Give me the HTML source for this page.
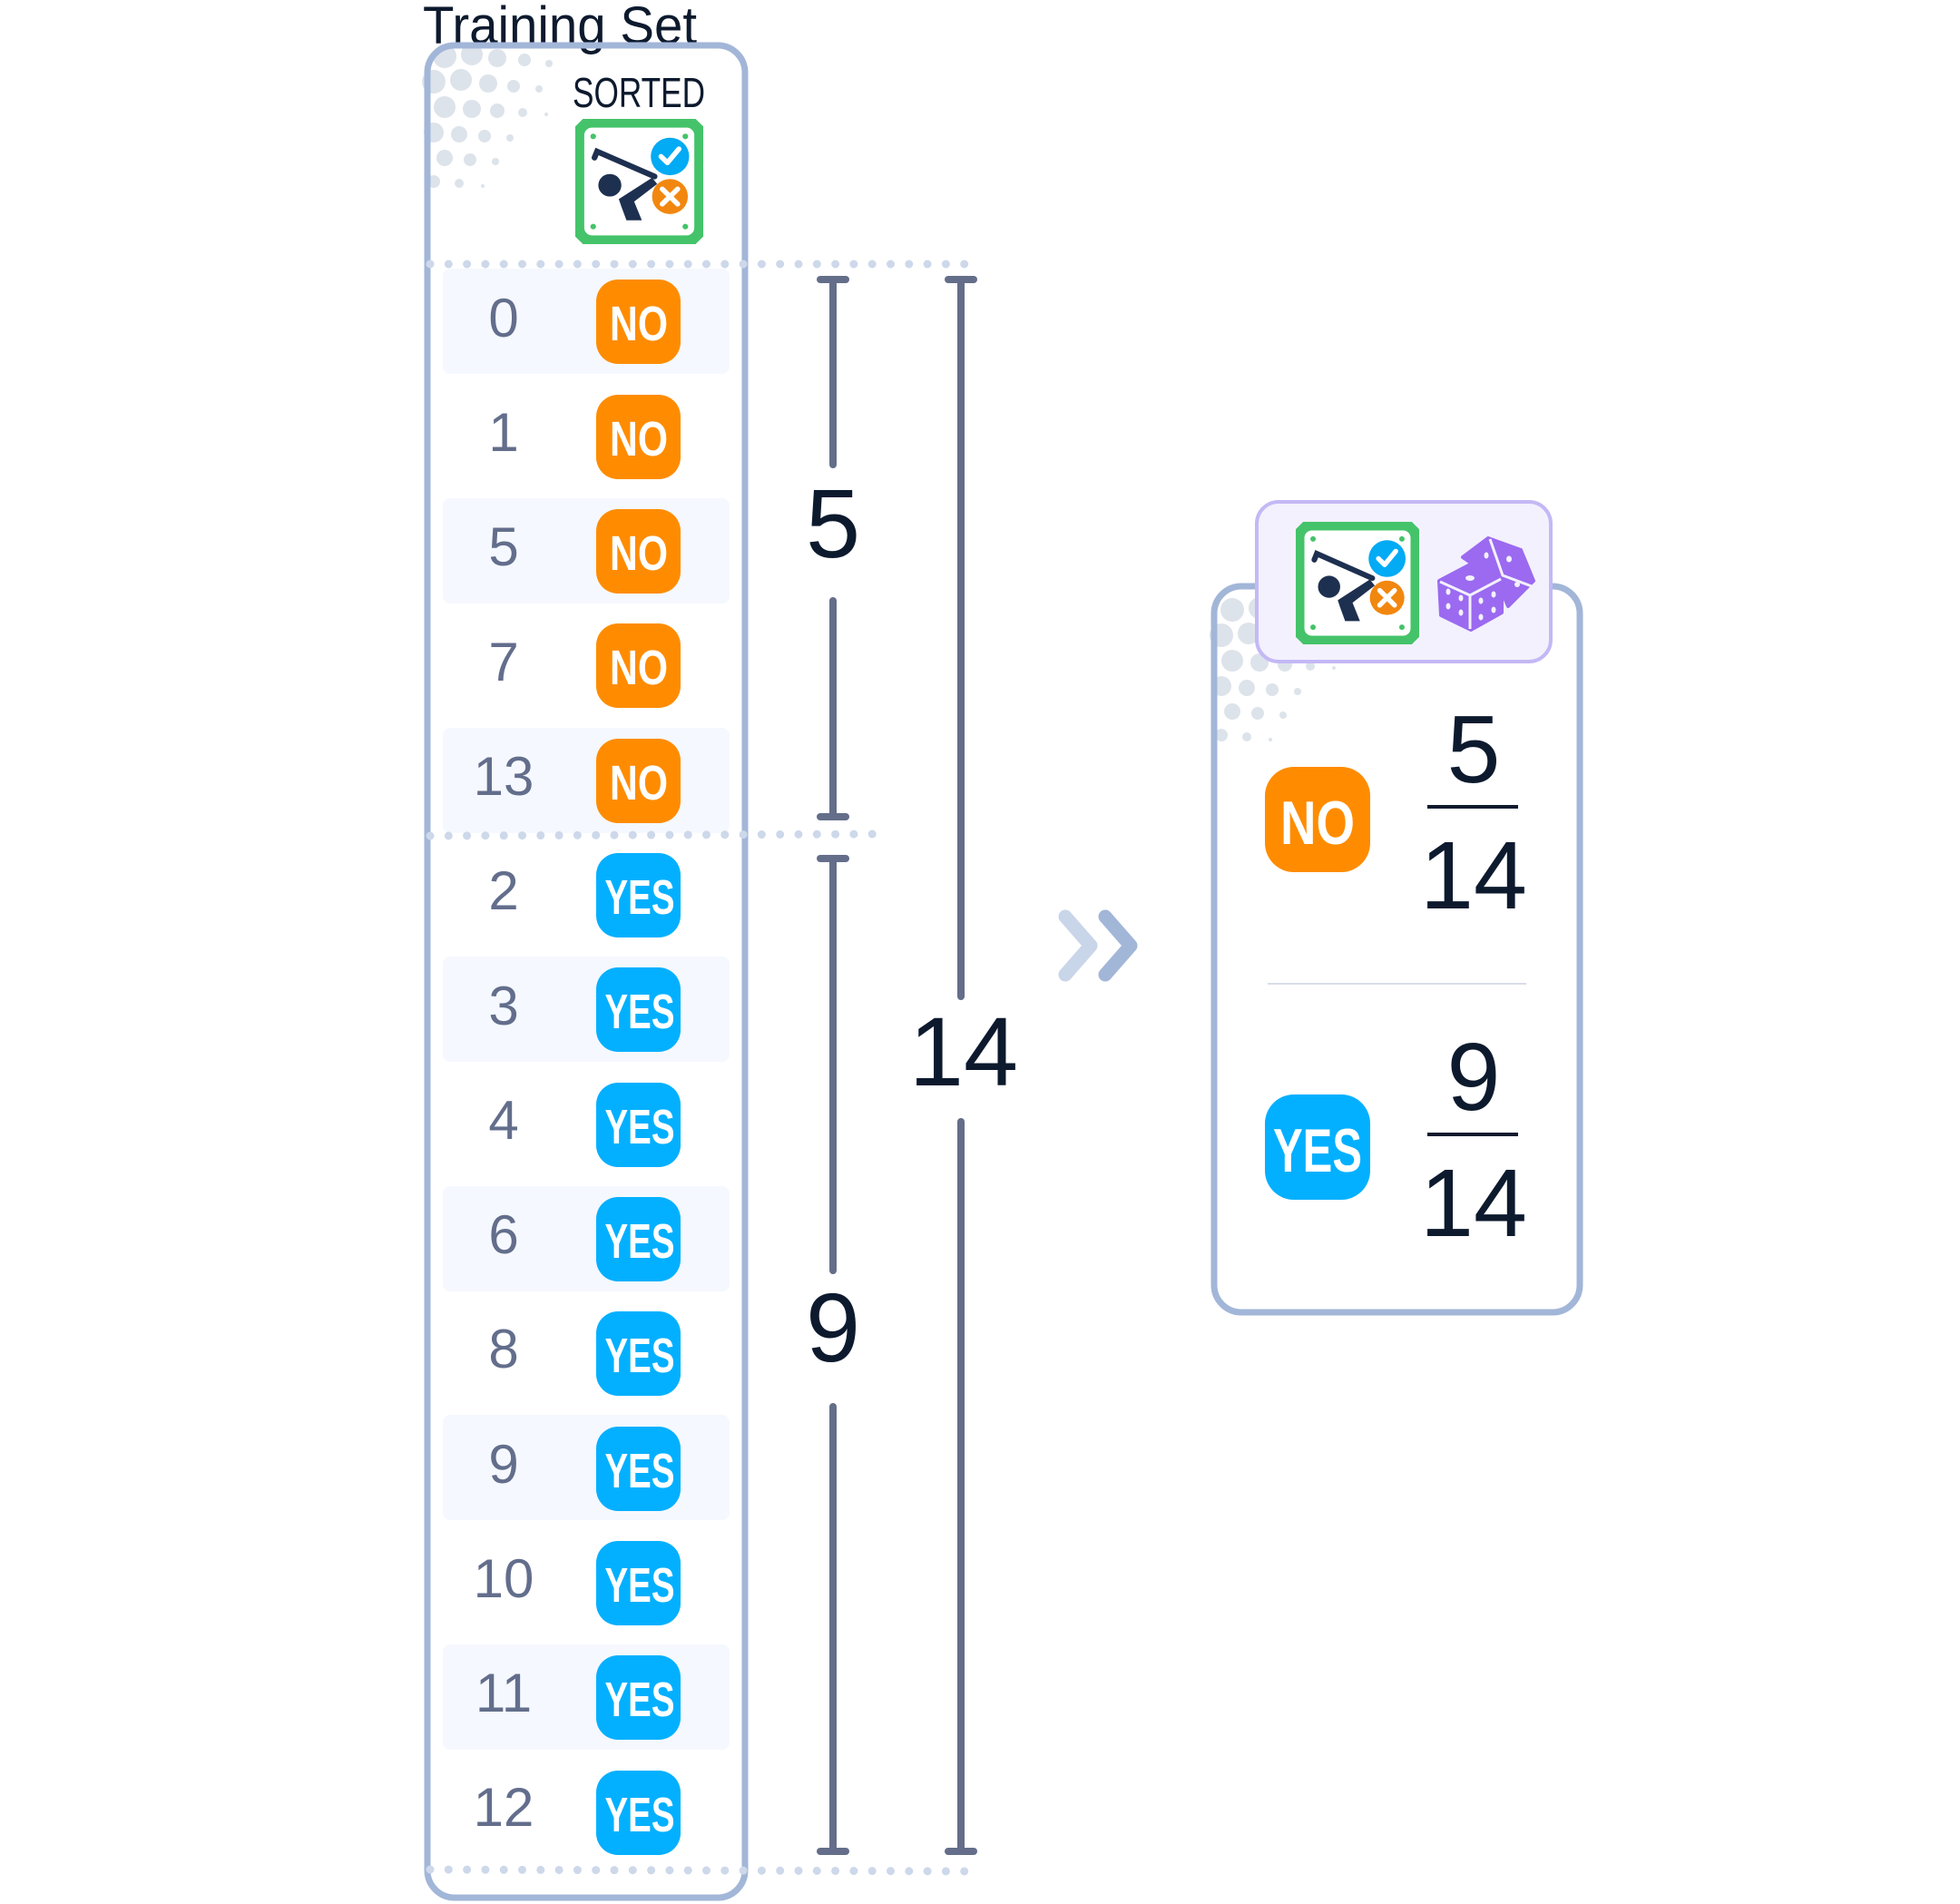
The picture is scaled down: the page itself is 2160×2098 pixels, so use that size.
<!DOCTYPE html>
<html><head><meta charset="utf-8"><style>
html,body{margin:0;padding:0;background:#fff;}
svg{display:block;}
</style></head><body>
<svg width="2160" height="2098" viewBox="0 0 2160 2098" xmlns="http://www.w3.org/2000/svg">
<defs>
<g id="icon">
  <path d="M6,0 H94 L100,6 V94 L94,100 H6 L0,94 V6 Z" fill="#45c36a"/>
  <rect x="7" y="7" width="86" height="86" rx="6" fill="#fff"/>
  <circle cx="14" cy="14" r="2.2" fill="#45c36a"/><circle cx="86" cy="14" r="2.2" fill="#45c36a"/>
  <circle cx="14" cy="86" r="2.2" fill="#45c36a"/><circle cx="86" cy="86" r="2.2" fill="#45c36a"/>
  <path d="M15,31 L17,26 L62,46" stroke="#1e3050" stroke-width="4.5" fill="none" stroke-linecap="round"/>
  <circle cx="27" cy="53" r="9" fill="#1e3050"/>
  <path d="M34,64 L60,47 L64,52 L46,66 L52,81 L40,81 L36,70 Z" fill="#1e3050"/>
  <circle cx="74" cy="30" r="15" fill="#03aaf4"/>
  <path d="M67,30 L72,35 L81,24" stroke="#fff" stroke-width="4" fill="none" stroke-linecap="round" stroke-linejoin="round"/>
  <circle cx="74" cy="62" r="14" fill="#f2870f"/>
  <path d="M68,56 L80,68 M80,56 L68,68" stroke="#fff" stroke-width="4" stroke-linecap="round"/>
</g>
<g id="dotsL" fill="#dde3ea">
  <circle cx="490" cy="62" r="13"/><circle cx="520" cy="60" r="12"/><circle cx="548" cy="64" r="10"/><circle cx="578" cy="66" r="7"/><circle cx="605" cy="70" r="4"/>
  <circle cx="478" cy="90" r="13"/><circle cx="508" cy="88" r="12"/><circle cx="538" cy="92" r="10"/><circle cx="566" cy="95" r="7"/><circle cx="594" cy="98" r="4"/>
  <circle cx="490" cy="118" r="12"/><circle cx="520" cy="120" r="10"/><circle cx="548" cy="122" r="8"/><circle cx="576" cy="124" r="5"/><circle cx="602" cy="126" r="2"/>
  <circle cx="478" cy="146" r="11"/><circle cx="506" cy="148" r="9"/><circle cx="534" cy="150" r="7"/><circle cx="562" cy="152" r="4"/>
  <circle cx="490" cy="174" r="9"/><circle cx="518" cy="176" r="7"/><circle cx="546" cy="178" r="4"/>
  <circle cx="478" cy="200" r="7"/><circle cx="506" cy="202" r="5"/><circle cx="532" cy="205" r="2"/>
</g>
</defs>

<!-- Title -->
<text x="466" y="48" font-family="Liberation Sans, sans-serif" font-size="58" fill="#0d1a2e" textLength="302" lengthAdjust="spacingAndGlyphs">Training Set</text>

<!-- Left box -->
<use href="#dotsL"/>
<rect x="471" y="50" width="350" height="2041" rx="30" fill="none" stroke="#a2b6d8" stroke-width="7"/>
<text x="704" y="118" text-anchor="middle" font-family="Liberation Sans, sans-serif" font-size="46" fill="#0d1a2e" textLength="146" lengthAdjust="spacingAndGlyphs">SORTED</text>
<use href="#icon" transform="translate(634,131) scale(1.41,1.38)"/>

<!-- row stripes -->
<g fill="#f5f8fe">
  <rect x="488" y="296" width="316" height="116" rx="8"/>
  <rect x="488" y="549" width="316" height="116" rx="8"/>
  <rect x="488" y="802" width="316" height="116" rx="8"/>
  <rect x="488" y="1054" width="316" height="116" rx="8"/>
  <rect x="488" y="1307" width="316" height="116" rx="8"/>
  <rect x="488" y="1559" width="316" height="116" rx="8"/>
  <rect x="488" y="1812" width="316" height="116" rx="8"/>
</g>

<!-- dotted lines -->
<g stroke="#cdd8ea" stroke-width="9" stroke-linecap="round" stroke-dasharray="0 20.3">
  <line x1="474" y1="291" x2="1076" y2="291"/>
  <line x1="474" y1="921" x2="972" y2="919"/>
  <line x1="474" y1="2060" x2="1078" y2="2062"/>
</g>

<!-- rows -->
<g font-family="Liberation Sans, sans-serif" font-size="60" fill="#636e8c" text-anchor="middle">
  <text x="555" y="371">0</text>
  <text x="555" y="497">1</text>
  <text x="555" y="623">5</text>
  <text x="555" y="750">7</text>
  <text x="555" y="876">13</text>
  <text x="555" y="1002">2</text>
  <text x="555" y="1129">3</text>
  <text x="555" y="1255">4</text>
  <text x="555" y="1381">6</text>
  <text x="555" y="1507">8</text>
  <text x="555" y="1634">9</text>
  <text x="555" y="1760">10</text>
  <text x="555" y="1886">11</text>
  <text x="555" y="2012">12</text>
</g>
<g>
  <rect x="657" y="308" width="93" height="93" rx="24" fill="#ff8c00"/>
  <rect x="657" y="435" width="93" height="93" rx="24" fill="#ff8c00"/>
  <rect x="657" y="561" width="93" height="93" rx="24" fill="#ff8c00"/>
  <rect x="657" y="687" width="93" height="93" rx="24" fill="#ff8c00"/>
  <rect x="657" y="814" width="93" height="93" rx="24" fill="#ff8c00"/>
  <rect x="657" y="940" width="93" height="93" rx="24" fill="#03b0ff"/>
  <rect x="657" y="1066" width="93" height="93" rx="24" fill="#03b0ff"/>
  <rect x="657" y="1193" width="93" height="93" rx="24" fill="#03b0ff"/>
  <rect x="657" y="1319" width="93" height="93" rx="24" fill="#03b0ff"/>
  <rect x="657" y="1445" width="93" height="93" rx="24" fill="#03b0ff"/>
  <rect x="657" y="1572" width="93" height="93" rx="24" fill="#03b0ff"/>
  <rect x="657" y="1698" width="93" height="93" rx="24" fill="#03b0ff"/>
  <rect x="657" y="1824" width="93" height="93" rx="24" fill="#03b0ff"/>
  <rect x="657" y="1951" width="93" height="93" rx="24" fill="#03b0ff"/>
</g>
<g font-family="Liberation Sans, sans-serif" font-weight="bold" font-size="54" fill="#fff" text-anchor="middle">
  <text x="704" y="375" textLength="64" lengthAdjust="spacingAndGlyphs">NO</text>
  <text x="704" y="502" textLength="64" lengthAdjust="spacingAndGlyphs">NO</text>
  <text x="704" y="628" textLength="64" lengthAdjust="spacingAndGlyphs">NO</text>
  <text x="704" y="754" textLength="64" lengthAdjust="spacingAndGlyphs">NO</text>
  <text x="704" y="881" textLength="64" lengthAdjust="spacingAndGlyphs">NO</text>
  <text x="705" y="1007" textLength="77" lengthAdjust="spacingAndGlyphs">YES</text>
  <text x="705" y="1133" textLength="77" lengthAdjust="spacingAndGlyphs">YES</text>
  <text x="705" y="1260" textLength="77" lengthAdjust="spacingAndGlyphs">YES</text>
  <text x="705" y="1386" textLength="77" lengthAdjust="spacingAndGlyphs">YES</text>
  <text x="705" y="1512" textLength="77" lengthAdjust="spacingAndGlyphs">YES</text>
  <text x="705" y="1639" textLength="77" lengthAdjust="spacingAndGlyphs">YES</text>
  <text x="705" y="1765" textLength="77" lengthAdjust="spacingAndGlyphs">YES</text>
  <text x="705" y="1891" textLength="77" lengthAdjust="spacingAndGlyphs">YES</text>
  <text x="705" y="2018" textLength="77" lengthAdjust="spacingAndGlyphs">YES</text>
</g>

<!-- measurement bars -->
<g stroke="#646e8a" stroke-width="8" stroke-linecap="round">
  <line x1="918" y1="308" x2="918" y2="512"/><line x1="918" y1="662" x2="918" y2="900"/>
  <line x1="904" y1="308" x2="932" y2="308"/><line x1="904" y1="900" x2="932" y2="900"/>
  <line x1="918" y1="946" x2="918" y2="1400"/><line x1="918" y1="1550" x2="918" y2="2040"/>
  <line x1="904" y1="946" x2="932" y2="946"/><line x1="904" y1="2040" x2="932" y2="2040"/>
  <line x1="1059" y1="308" x2="1059" y2="1098"/><line x1="1059" y1="1236" x2="1059" y2="2040"/>
  <line x1="1045" y1="308" x2="1073" y2="308"/><line x1="1045" y1="2040" x2="1073" y2="2040"/>
</g>
<g font-family="Liberation Sans, sans-serif" font-size="108" fill="#0d1a2e" text-anchor="middle">
  <text x="918" y="614">5</text>
  <text x="918" y="1500">9</text>
  <text x="1062" y="1196">14</text>
</g>

<!-- chevrons -->
<path d="M1174,1010 L1202,1042 L1174,1074" stroke="#c9d5e9" stroke-width="15" fill="none" stroke-linecap="round" stroke-linejoin="round"/>
<path d="M1218,1010 L1246,1042 L1218,1074" stroke="#a2b6d8" stroke-width="15" fill="none" stroke-linecap="round" stroke-linejoin="round"/>

<!-- right box -->
<use href="#dotsL" transform="translate(868,610)"/>
<rect x="1338" y="646" width="403" height="800" rx="30" fill="none" stroke="#a2b6d8" stroke-width="7"/>
<rect x="1385" y="553" width="324" height="176" rx="24" fill="#f3f1fd" stroke="#c4b8f6" stroke-width="4"/>
<use href="#icon" transform="translate(1428,575) scale(1.36,1.35)"/>

<!-- dice -->
<g fill="#9b6af0" stroke="#9b6af0" stroke-width="4" stroke-linejoin="round">
  <path d="M1612,614 L1640,593 L1676,606 L1690,640 L1662,668 L1650,640 Z"/>
  <path d="M1622,621 L1655,637 L1655,675 L1621,694 L1588,678 L1586,640 Z"/>
</g>
<g stroke="#f3f1fd" stroke-width="3" fill="none">
  <path d="M1642,594 L1656,634 L1688,646"/>
  <path d="M1587,641 L1620,656 L1654,638 M1620,656 L1620,693"/>
</g>
<g fill="#f3f1fd">
  <ellipse cx="1620" cy="637" rx="5" ry="3"/>
  <ellipse cx="1596" cy="652" rx="2.5" ry="3.5"/><ellipse cx="1610" cy="659" rx="2.5" ry="3.5"/>
  <ellipse cx="1596" cy="668" rx="2.5" ry="3.5"/><ellipse cx="1610" cy="675" rx="2.5" ry="3.5"/>
  <ellipse cx="1632" cy="662" rx="2.5" ry="3.5"/><ellipse cx="1646" cy="655" rx="2.5" ry="3.5"/>
  <ellipse cx="1632" cy="680" rx="2.5" ry="3.5"/><ellipse cx="1646" cy="672" rx="2.5" ry="3.5"/>
  <ellipse cx="1638" cy="612" rx="2.5" ry="3.5"/><ellipse cx="1663" cy="616" rx="3" ry="3.5"/><ellipse cx="1672" cy="644" rx="3" ry="3"/>
</g>

<!-- NO fraction -->
<rect x="1394" y="845" width="116" height="116" rx="32" fill="#ff8c00"/>
<text x="1452" y="930" text-anchor="middle" font-family="Liberation Sans, sans-serif" font-weight="bold" font-size="68" fill="#fff" textLength="82" lengthAdjust="spacingAndGlyphs">NO</text>
<g font-family="Liberation Sans, sans-serif" font-size="106" fill="#0d1a2e" text-anchor="middle">
  <text x="1624" y="862">5</text>
  <text x="1624" y="1001">14</text>
  <text x="1624" y="1223">9</text>
  <text x="1624" y="1362">14</text>
</g>
<line x1="1573" y1="889" x2="1673" y2="889" stroke="#0d1a2e" stroke-width="4"/>
<line x1="1397" y1="1084" x2="1682" y2="1084" stroke="#d8dde8" stroke-width="2"/>
<rect x="1394" y="1206" width="116" height="116" rx="32" fill="#03b0ff"/>
<text x="1452" y="1291" text-anchor="middle" font-family="Liberation Sans, sans-serif" font-weight="bold" font-size="68" fill="#fff" textLength="98" lengthAdjust="spacingAndGlyphs">YES</text>
<line x1="1573" y1="1250" x2="1673" y2="1250" stroke="#0d1a2e" stroke-width="4"/>
</svg>
</body></html>
